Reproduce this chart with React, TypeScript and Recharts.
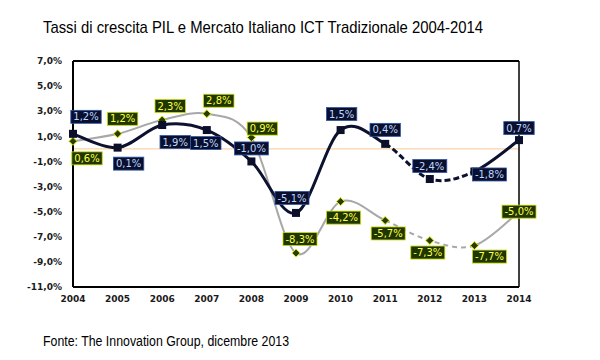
import React from 'react';
import { LineChart, Line, XAxis, YAxis, ReferenceLine } from 'recharts';

const years = [2004, 2005, 2006, 2007, 2008, 2009, 2010, 2011, 2012, 2013, 2014];
const navyValues = [1.2, 0.1, 1.9, 1.5, -1.0, -5.1, 1.5, 0.4, -2.4, -1.8, 0.7];
const grayValues = [0.6, 1.2, 2.3, 2.8, 0.9, -8.3, -4.2, -5.7, -7.3, -7.7, -5.0];
const yTicks = [-11, -9, -7, -5, -3, -1, 1, 3, 5, 7];
const titleText = 'Tassi di crescita PIL e Mercato Italiano ICT Tradizionale  2004-2014';
const sourceText = 'Fonte: The Innovation Group, dicembre 2013';

const data = years.map((year, i) => ({ year, navy: navyValues[i], gray: grayValues[i] }));

// label box offsets (layout only), relative to each point
const navyLabelOffsets: [number, number][] = [
  [13, -17], [11, 16], [13, 17], [-1, 13], [0, -13], [-4, -15], [1, -16], [0, -14], [0, -13], [15, 3], [0, -12],
];
const grayLabelOffsets: [number, number][] = [
  [14, 17], [5, -15], [8, -14], [12, -13], [11, -9], [4, -14], [3, 16], [3, 13], [-2, 12], [15, 11], [0, 0],
];

const fmt = (v: number) => v.toFixed(1).replace('.', ',') + '%';

// Catmull-Rom style smoothing that strokes only segments [from, to)
const segmentCurve = (from: number, to: number) => (context: any) => {
  let pts: [number, number][] = [];
  return {
    areaStart() {},
    areaEnd() {},
    lineStart() { pts = []; },
    point(x: number, y: number) { pts.push([+x, +y]); },
    lineEnd() {
      const n = pts.length;
      if (n < 2) return;
      const end = Math.min(to, n - 1);
      context.moveTo(pts[from][0], pts[from][1]);
      const t = 1 / 6;
      for (let i = from; i < end; i++) {
        const p0 = pts[Math.max(i - 1, 0)];
        const p1 = pts[i];
        const p2 = pts[i + 1];
        const p3 = pts[Math.min(i + 2, n - 1)];
        context.bezierCurveTo(
          p1[0] + (p2[0] - p0[0]) * t, p1[1] + (p2[1] - p0[1]) * t,
          p2[0] - (p3[0] - p1[0]) * t, p2[1] - (p3[1] - p1[1]) * t,
          p2[0], p2[1]
        );
      }
    },
  };
};

const charW = (s: string) => {
  let w = 0;
  for (const c of s) {
    if (c >= '0' && c <= '9') w += 6.36;
    else if (c === ',') w += 3.18;
    else if (c === '%') w += 9.5;
    else if (c === '-') w += 3.61;
    else w += 6;
  }
  return w;
};

const NavyDot = (props: any) => {
  const { cx, cy, index } = props;
  if (cx == null || cy == null) return <g key={`nd${index}`} />;
  return <rect key={`nd${index}`} x={cx - 4} y={cy - 4} width={8} height={8} fill="#0b0f2a" />;
};

const GrayDot = (props: any) => {
  const { cx, cy, index } = props;
  if (cx == null || cy == null) return <g key={`gd${index}`} />;
  const r = 4;
  return (
    <polygon
      key={`gd${index}`}
      points={`${cx},${cy - r} ${cx + r},${cy} ${cx},${cy + r} ${cx - r},${cy}`}
      fill="#2b3b00"
      stroke="#d6ee00"
      strokeWidth={1}
    />
  );
};

const makeLabel = (offsets: [number, number][], fill: string, stroke: string, color: string, tag: string) => (props: any) => {
  const { cx, cy, index, value } = props;
  if (cx == null || cy == null) return <g key={`${tag}${index}`} />;
  const v = Array.isArray(value) ? value[1] : value;
  const s = fmt(v);
  const w = charW(s) + 5;
  const h = 13;
  const [dx, dy] = offsets[index] || [0, -14];
  const x = cx + dx;
  const y = cy + dy;
  return (
    <g key={`${tag}${index}`}>
      <rect x={x - w / 2} y={y - h / 2} width={w} height={h} fill={fill} stroke={stroke} strokeWidth={0.8} />
      <text x={x} y={y + 3.6} textAnchor="middle" fontSize={10} fontFamily="DejaVu Sans" fill={color}>
        {s}
      </text>
    </g>
  );
};

const NavyLabel = makeLabel(navyLabelOffsets, '#0b0f2e', '#2d56a8', '#bcd8ff', 'nl');
const GrayLabel = makeLabel(grayLabelOffsets, '#1f3600', '#c7dc00', '#ffff4a', 'gl');

export default function App() {
  const tickStyle = { fontSize: 9, fontWeight: 700, fontFamily: 'DejaVu Sans', fill: '#1a1a1a' };
  return (
    <div style={{ position: 'absolute', left: 0, top: 0, width: 600, height: 360, background: '#fff' }}>
      <LineChart width={600} height={360} data={data} margin={{ top: 61, right: 81, bottom: 53, left: 13 }}>
        <XAxis
          dataKey="year"
          type="number"
          domain={[2004, 2014]}
          ticks={years}
          tickFormatter={(v: number) => String(v)}
          axisLine={{ stroke: '#000', strokeWidth: 2 }}
          tickLine={false}
          tickSize={0}
          tickMargin={9}
          height={20}
          tick={tickStyle}
          interval={0}
        />
        <YAxis
          type="number"
          domain={[-11, 7]}
          ticks={yTicks}
          tickFormatter={(v: number) => fmt(v)}
          axisLine={{ stroke: '#000', strokeWidth: 2 }}
          tickLine={false}
          tickSize={0}
          tickMargin={11}
          width={60}
          tick={tickStyle}
          interval={0}
        />
        <ReferenceLine y={0} stroke="#f7c893" strokeWidth={1} />
        <ReferenceLine y={7} stroke="#000" strokeWidth={2} />
        <ReferenceLine x={2014} stroke="#000" strokeWidth={1.5} />

        <Line dataKey="gray" type={segmentCurve(0, 7) as any} stroke="#a8a8a8" strokeWidth={2} dot={GrayDot} activeDot={false} isAnimationActive={false} />
        <Line dataKey="gray" type={segmentCurve(7, 9) as any} stroke="#a8a8a8" strokeWidth={2} strokeDasharray="5 4" dot={false} activeDot={false} isAnimationActive={false} />
        <Line dataKey="gray" type={segmentCurve(9, 10) as any} stroke="#a8a8a8" strokeWidth={2} dot={false} activeDot={false} isAnimationActive={false} />

        <Line dataKey="navy" type={segmentCurve(0, 7) as any} stroke="#0d1130" strokeWidth={3} dot={NavyDot} activeDot={false} isAnimationActive={false} />
        <Line dataKey="navy" type={segmentCurve(7, 9) as any} stroke="#0d1130" strokeWidth={3} strokeDasharray="6 3" dot={false} activeDot={false} isAnimationActive={false} />
        <Line dataKey="navy" type={segmentCurve(9, 10) as any} stroke="#0d1130" strokeWidth={3} dot={false} activeDot={false} isAnimationActive={false} />

        <Line dataKey="gray" stroke="none" dot={GrayLabel} activeDot={false} isAnimationActive={false} />
        <Line dataKey="navy" stroke="none" dot={NavyLabel} activeDot={false} isAnimationActive={false} />
      </LineChart>
      <svg width={600} height={360} style={{ position: 'absolute', left: 0, top: 0, pointerEvents: 'none' }}>
        <text x={43} y={33} fontSize={17} fontFamily="Liberation Sans" fill="#000" textLength={440} lengthAdjust="spacingAndGlyphs">
          {titleText}
        </text>
        <text x={43} y={346} fontSize={14} fontFamily="Liberation Sans" fill="#000" textLength={246} lengthAdjust="spacingAndGlyphs">
          {sourceText}
        </text>
      </svg>
    </div>
  );
}
